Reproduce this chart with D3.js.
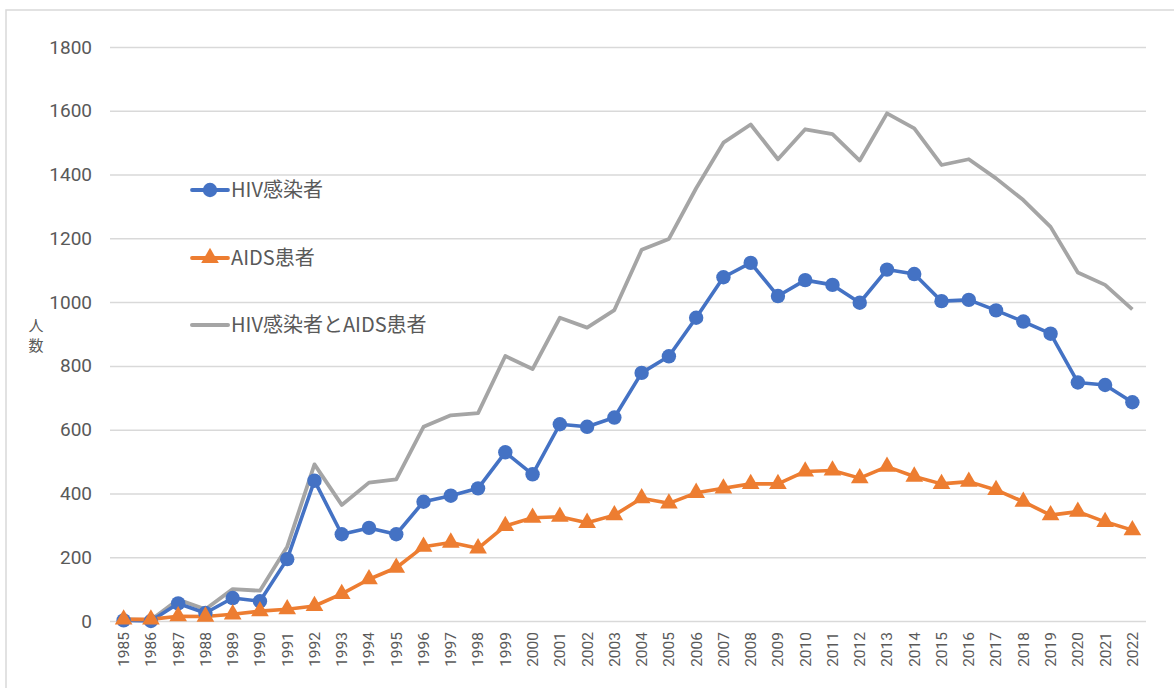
<!DOCTYPE html>
<html><head><meta charset="utf-8">
<script src="https://cdn.jsdelivr.net/npm/d3@7"></script>
<style>body{margin:0;background:#fff;}svg{display:block;}</style>
</head><body>
<svg id="c" width="1174" height="688"></svg>
<script>
const years = d3.range(1985, 2023).map(String);
const hiv = [2,0,55,25,72,62,194,440,272,292,272,374,393,416,529,460,617,609,638,778,830,951,1078,1123,1019,1069,1054,998,1102,1088,1003,1007,974,939,901,748,740,686];
const aids = [5,5,15,14,21,31,37,47,85,131,167,233,246,228,298,324,327,308,332,385,369,402,416,430,430,469,472,448,484,453,430,437,411,374,332,343,311,285];
const total = [6,3,67,37,100,95,233,491,364,434,444,609,645,652,831,790,951,920,975,1164,1198,1357,1500,1557,1448,1542,1527,1444,1592,1545,1430,1448,1388,1320,1236,1093,1054,977];
const yTicks = [0,200,400,600,800,1000,1200,1400,1600,1800];
const seriesNames = ["HIV感染者","AIDS患者","HIV感染者とAIDS患者"];
const yTitle = "人数";

const svg = d3.select("#c");
const pL = 110, pR = 1146, pT = 47, pB = 621;
const txt = "#595959";

svg.append("rect").attr("x",6).attr("y",10).attr("width",1200).attr("height",700)
  .attr("fill","#fff").attr("stroke","#D9D9D9").attr("stroke-width",1.5);

const x = d3.scaleBand().domain(years).range([pL,pR]);
const y = d3.scaleLinear().domain([0,1800]).range([pB,pT]);
const cx = d => x(d) + x.bandwidth()/2;

// grid
const ga = svg.append("g").attr("transform",`translate(${pL},0)`)
  .call(d3.axisLeft(y).tickValues(yTicks).tickSize(-(pR-pL)).tickFormat(""));
ga.select(".domain").remove();
ga.selectAll(".tick line").attr("stroke","#D9D9D9").attr("stroke-width",1.5);

// y labels
const yl = svg.append("g").attr("transform",`translate(92,0)`)
  .call(d3.axisLeft(y).tickValues(yTicks).tickFormat(d3.format("d")).tickSize(0).tickPadding(0));
yl.select(".domain").remove();
yl.selectAll("text").attr("fill",txt).style("font-family","'Liberation Sans Narrow','Roboto',sans-serif").style("font-size","19px");

// x labels
const xl = svg.append("g").attr("transform",`translate(0,${pB})`)
  .call(d3.axisBottom(x).tickSize(0).tickPadding(0));
xl.select(".domain").remove();
xl.selectAll("text").attr("fill",txt).style("font-family","'Roboto',sans-serif").style("font-size","15.5px")
  .attr("text-anchor","end").attr("dy","0.35em").attr("transform","translate(0,11) rotate(-90)").attr("x",0).attr("y",0);

// y title
const yt = svg.append("text").attr("fill",txt).style("font-family","'Noto Sans CJK JP',sans-serif").style("font-size","15px")
  .attr("text-anchor","middle");
yt.selectAll("tspan").data(yTitle.split("")).join("tspan").attr("x",36).attr("y",(d,i)=>331+i*20).text(d=>d);

const line = d3.line().x((d,i)=>cx(years[i])).y(d=>y(d));
svg.append("path").datum(total).attr("d",line).attr("fill","none").attr("stroke","#A5A5A5").attr("stroke-width",3.8).attr("stroke-linejoin","round");
svg.append("path").datum(hiv).attr("d",line).attr("fill","none").attr("stroke","#4472C4").attr("stroke-width",3.6).attr("stroke-linejoin","round");
svg.append("path").datum(aids).attr("d",line).attr("fill","none").attr("stroke","#ED7D31").attr("stroke-width",3.6).attr("stroke-linejoin","round");

svg.append("g").selectAll("circle").data(hiv).join("circle")
  .attr("cx",(d,i)=>cx(years[i])).attr("cy",d=>y(d)).attr("r",7.2).attr("fill","#4472C4");
const tri = d3.symbol().type(d3.symbolTriangle).size(135);
svg.append("g").selectAll("path").data(aids).join("path")
  .attr("d",tri).attr("transform",(d,i)=>`translate(${cx(years[i])},${y(d)})`).attr("fill","#ED7D31");

// legend
const colors = ["#4472C4","#ED7D31","#A5A5A5"];
const ly = [190,258,325];
seriesNames.forEach((n,i)=>{
  const g = svg.append("g").attr("transform",`translate(192,${ly[i]})`);
  g.append("line").attr("x1",0).attr("x2",36).attr("stroke",colors[i]).attr("stroke-width",i==2?4:3.8).attr("stroke-linecap","round");
  if(i==0) g.append("circle").attr("cx",18).attr("r",7.2).attr("fill",colors[0]);
  if(i==1) g.append("path").attr("d",tri).attr("transform","translate(18,0)").attr("fill",colors[1]);
  g.append("text").attr("x",39).attr("dy","0.36em").attr("fill",txt)
    .style("font-family","'Noto Sans CJK JP',sans-serif").style("font-size","20px").text(n);
});
</script>
</body></html>
